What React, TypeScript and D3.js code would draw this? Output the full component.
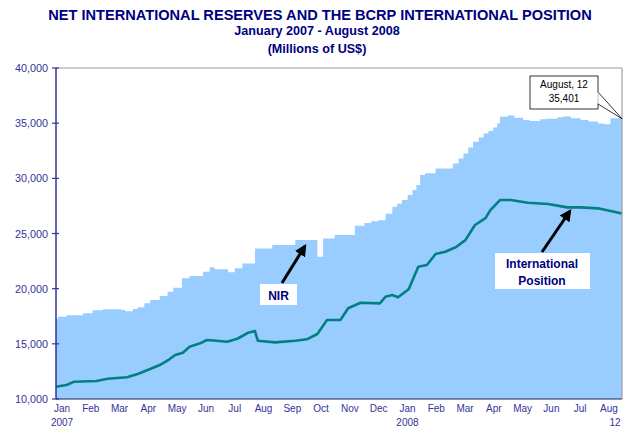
import React from 'react';
import * as d3 from 'd3';

const titleLines = [
  'NET INTERNATIONAL RESERVES AND THE BCRP INTERNATIONAL POSITION',
  'January 2007 - August 2008',
  '(Millions of US$)',
];

const monthLabels = ['Jan', 'Feb', 'Mar', 'Apr', 'May', 'Jun', 'Jul', 'Aug', 'Sep', 'Oct', 'Nov', 'Dec',
  'Jan', 'Feb', 'Mar', 'Apr', 'May', 'Jun', 'Jul', 'Aug'];
const yearLabels = [
  { idx: 0, text: '2007' },
  { idx: 12, text: '2008' },
  { idx: 19, text: '12' },
];
const yTicks = [10000, 15000, 20000, 25000, 30000, 35000, 40000];

// Net International Reserves (step series)
const nirDates = [
  '2007-01-01', '2007-01-03', '2007-01-12', '2007-01-29', '2007-02-08', '2007-02-19', '2007-03-10',
  '2007-03-14', '2007-03-22', '2007-03-27', '2007-04-03', '2007-04-09', '2007-04-19', '2007-04-27',
  '2007-05-03', '2007-05-12', '2007-05-20', '2007-06-03', '2007-06-10', '2007-06-15', '2007-06-29',
  '2007-07-06', '2007-07-14', '2007-07-27', '2007-08-14', '2007-09-07', '2007-09-30', '2007-10-06',
  '2007-10-18', '2007-11-08', '2007-11-18', '2007-11-25', '2007-12-02', '2007-12-10', '2007-12-17',
  '2007-12-22', '2007-12-27', '2008-01-02', '2008-01-07', '2008-01-11', '2008-01-15', '2008-01-20',
  '2008-01-31', '2008-02-18', '2008-02-24', '2008-02-29', '2008-03-05', '2008-03-10', '2008-03-16',
  '2008-03-21', '2008-03-26', '2008-03-31', '2008-04-04', '2008-04-07', '2008-04-15', '2008-04-22',
  '2008-05-01', '2008-05-08', '2008-05-19', '2008-05-26', '2008-06-06', '2008-06-12', '2008-06-20',
  '2008-06-30', '2008-07-08', '2008-07-18', '2008-07-24', '2008-07-31', '2008-08-12',
];
const nirValues = [
  17250, 17460, 17585, 17765, 18040, 18130, 18065,
  17945, 18160, 18310, 18670, 18970, 19335, 19725,
  20090, 20940, 21150, 21540, 21935, 21750, 21480,
  21840, 22290, 23650, 23950, 24400, 22890, 24550,
  24860, 25700, 25950, 26100, 26210, 26800, 27420,
  27700, 28030, 28500, 28935, 29400, 30300, 30450,
  30900, 31350, 31800, 32260, 32800, 33320, 33700,
  34070, 34300, 34600, 34980, 35590, 35700, 35500,
  35290, 35200, 35350, 35400, 35530, 35600, 35450,
  35290, 35150, 34980, 34900, 35440, 35401,
];

// BCRP International Position (line)
const ipDates = [
  '2007-01-01', '2007-01-12', '2007-01-20', '2007-02-12', '2007-02-24', '2007-03-16', '2007-03-27',
  '2007-04-09', '2007-04-19', '2007-04-29', '2007-05-05', '2007-05-13', '2007-05-20', '2007-05-31',
  '2007-06-07', '2007-06-17', '2007-06-28', '2007-07-08', '2007-07-14', '2007-07-20', '2007-07-27',
  '2007-07-30', '2007-08-17', '2007-09-07', '2007-09-19', '2007-09-30', '2007-10-10', '2007-10-24',
  '2007-11-01', '2007-11-14', '2007-12-04', '2007-12-10', '2007-12-17', '2007-12-23', '2008-01-03',
  '2008-01-13', '2008-01-22', '2008-01-31', '2008-02-10', '2008-02-21', '2008-03-02', '2008-03-12',
  '2008-03-23', '2008-03-28', '2008-04-07', '2008-04-18', '2008-05-06', '2008-05-27', '2008-06-16',
  '2008-06-30', '2008-07-18', '2008-08-12',
];
const ipValues = [
  11115, 11270, 11570, 11630, 11840, 11965, 12265,
  12720, 13080, 13595, 13990, 14195, 14740, 15045,
  15345, 15285, 15195, 15440, 15710, 16010, 16160,
  15285, 15135, 15285, 15410, 15890, 17160, 17160,
  18220, 18725, 18670, 19270, 19425, 19215, 19940,
  21990, 22145, 23140, 23350, 23760, 24400, 25770,
  26400, 27120, 28030, 28030, 27790, 27670, 27370,
  27370, 27280, 26820,
];

const calloutLines = ['August, 12', '35,401'];
const lastValue = 35401;

const FONT = '"Liberation Sans", Arial, Helvetica, sans-serif';
const NAVY = '#000080';
const AXIS = '#333399';

export default function App() {
  const W = 631, H = 430;
  const left = 56, right = 622, top = 68, bottom = 399;
  const parse = d3.timeParse('%Y-%m-%d');

  const x = d3.scaleTime()
    .domain([parse('2007-01-01') as Date, parse('2008-08-12') as Date])
    .range([left, right]);
  const y = d3.scaleLinear().domain([10000, 40000]).range([bottom, top]);
  const xl = d3.scalePoint<number>().domain(d3.range(monthLabels.length)).range([62, 609]);

  const nir = nirDates.map((d, i) => ({ date: parse(d) as Date, v: nirValues[i] }));
  const ip = ipDates.map((d, i) => ({ date: parse(d) as Date, v: ipValues[i] }));

  const area = d3.area<{ date: Date; v: number }>()
    .x(d => x(d.date)).y0(bottom).y1(d => y(d.v)).curve(d3.curveStepAfter);
  const line = d3.line<{ date: Date; v: number }>()
    .x(d => x(d.date)).y(d => y(d.v));

  const tipX = x(parse('2008-08-12') as Date);
  const tipY = y(lastValue);

  return (
    <svg width={W} height={H} style={{ position: 'absolute', left: 0, top: 0, background: '#fff' }}
      fontFamily={FONT}>
      <defs>
        <marker id="arr" viewBox="0 0 10 10" refX="8" refY="5" markerWidth="4" markerHeight="4"
          orient="auto">
          <path d="M0,0 L10,5 L0,10 z" fill="#000" />
        </marker>
      </defs>
      {/* titles */}
      <text x={320} y={20} textAnchor="middle" fontSize={14.6} fontWeight="bold" fill={NAVY}>{titleLines[0]}</text>
      <text x={317} y={35} textAnchor="middle" fontSize={12.6} fontWeight="bold" fill={NAVY}>{titleLines[1]}</text>
      <text x={317} y={53} textAnchor="middle" fontSize={12.6} fontWeight="bold" fill={NAVY}>{titleLines[2]}</text>

      {/* plot frame */}
      <rect x={left} y={top} width={right - left} height={bottom - top} fill="#fff" />
      <path d={area(nir) || ''} fill="#99CCFF" />
      <path d={line(ip) || ''} fill="none" stroke="#008080" strokeWidth={2.6} strokeLinejoin="round" />
      <line x1={left} x2={right} y1={top} y2={top} stroke="#a0a0a0" strokeWidth={1.2} />
      <line x1={right} x2={right} y1={top} y2={bottom} stroke="#a0a0a0" strokeWidth={1.2} />
      <line x1={left} x2={right} y1={bottom} y2={bottom} stroke="#222255" strokeWidth={1.2} />
      <line x1={left} x2={left} y1={top} y2={bottom} stroke={AXIS} strokeWidth={1.5} />

      {/* y ticks */}
      {yTicks.map(t => (
        <g key={t}>
          <line x1={left - 4} x2={left + 3} y1={y(t)} y2={y(t)} stroke={AXIS} strokeWidth={1.2} />
          <text x={48} y={y(t) + 4} textAnchor="end" fontSize={10.8} fill={AXIS}>{d3.format(',')(t)}</text>
        </g>
      ))}

      {/* x labels */}
      {monthLabels.map((m, i) => (
        <text key={i} x={xl(i)} y={412} textAnchor="middle" fontSize={10} fill={AXIS}>{m}</text>
      ))}
      {yearLabels.map(yl => (
        <text key={yl.text} x={(xl(yl.idx) as number) + (yl.text === '12' ? 6 : 0)} y={426}
          textAnchor="middle" fontSize={10} fill={AXIS}>{yl.text}</text>
      ))}

      {/* NIR label */}
      <line x1={282} y1={283} x2={305} y2={246} stroke="#000" strokeWidth={3} markerEnd="url(#arr)" />
      <rect x={260} y={284} width={37} height={21} fill="#fff" />
      <text x={278.5} y={300} textAnchor="middle" fontSize={12} fontWeight="bold" fill={NAVY}>NIR</text>

      {/* International Position label */}
      <line x1={542} y1={252} x2={570} y2={211} stroke="#000" strokeWidth={3} markerEnd="url(#arr)" />
      <rect x={495} y={253} width={95} height={36} fill="#fff" />
      <text x={542} y={268} textAnchor="middle" fontSize={12} fontWeight="bold" fill={NAVY}>International</text>
      <text x={542} y={285} textAnchor="middle" fontSize={12} fontWeight="bold" fill={NAVY}>Position</text>

      {/* callout */}
      <path d={`M598,${92} L${tipX},${tipY} L598,${104}`} fill="#fff" stroke="#000" strokeWidth={0.8} />
      <rect x={530} y={76} width={68} height={33} fill="#fff" stroke="#000" strokeWidth={0.8} />
      <line x1={598} x2={598} y1={92.5} y2={103.5} stroke="#fff" strokeWidth={1.4} />
      <text x={564} y={88} textAnchor="middle" fontSize={10} fill="#000">{calloutLines[0]}</text>
      <text x={564} y={102} textAnchor="middle" fontSize={10} fill="#000">{calloutLines[1]}</text>
    </svg>
  );
}
